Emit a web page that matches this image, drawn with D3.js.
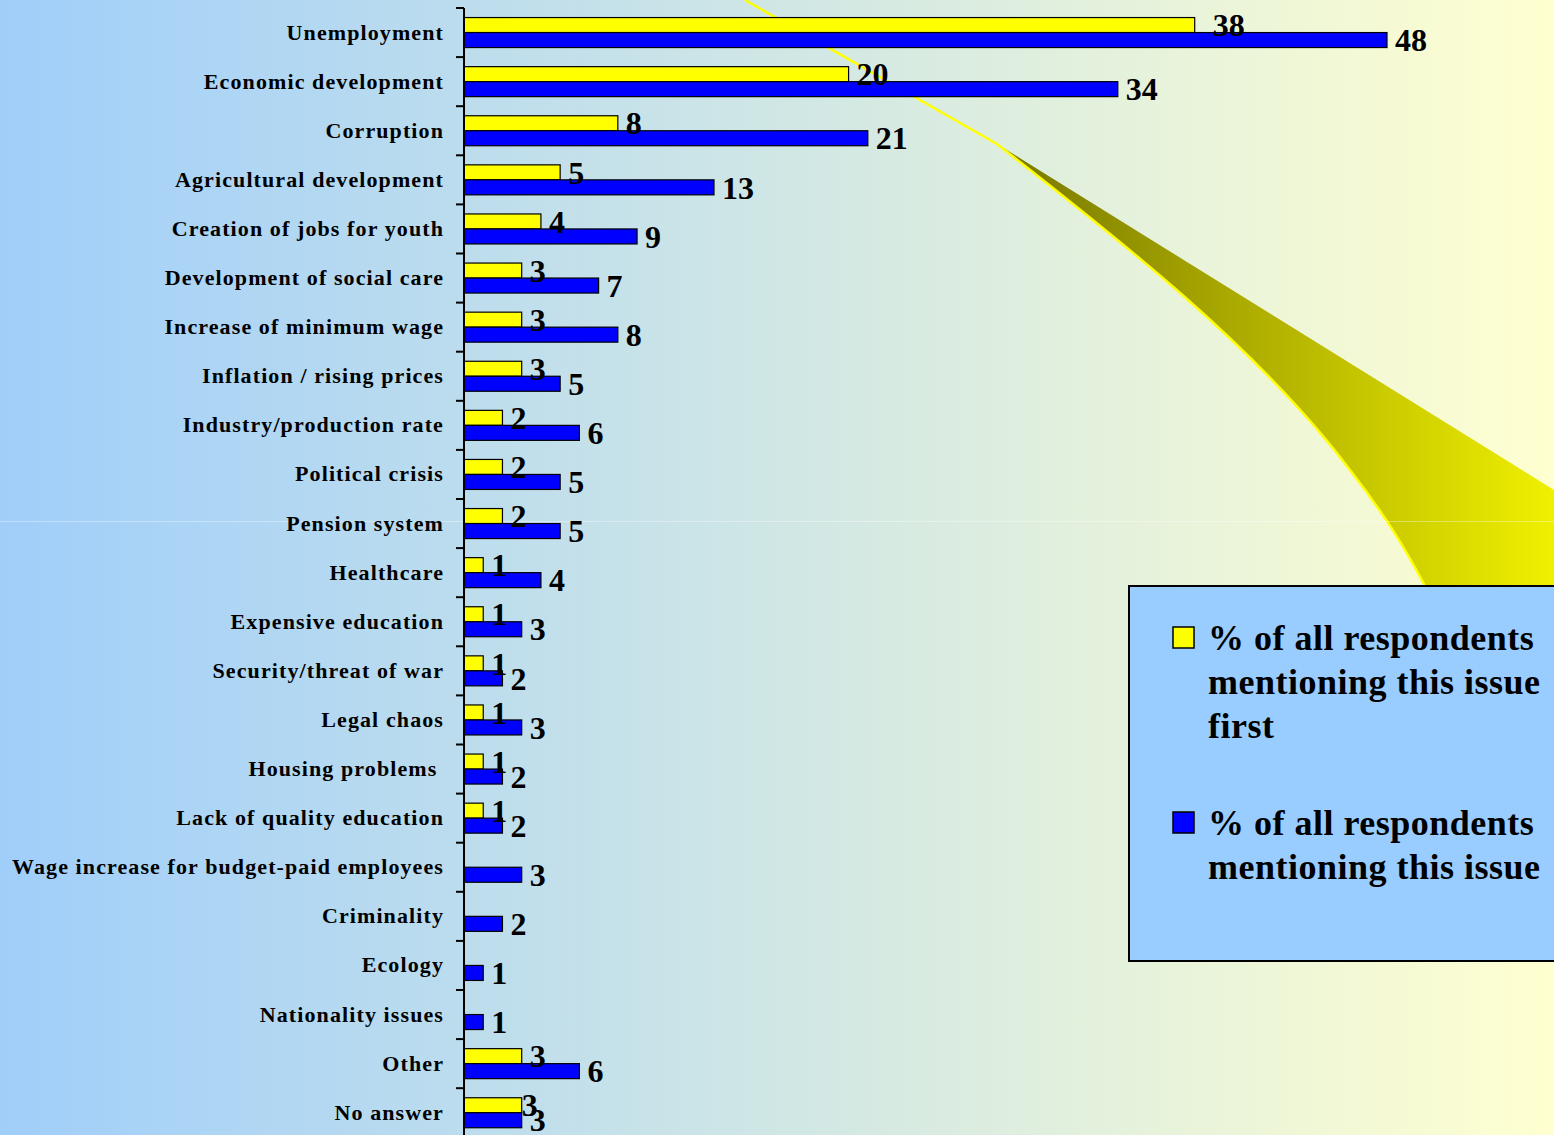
<!DOCTYPE html>
<html>
<head>
<meta charset="utf-8">
<script src="https://cdn.jsdelivr.net/npm/d3@7"></script>
<style>
	body { margin: 0; overflow: hidden; }
	text { font-family: "Liberation Serif", "Times New Roman", serif; font-weight: bold; }
</style>
</head>
<body>
<div class="canvas"></div>
<script>
const categories = ['Unemployment', 'Economic development', 'Corruption', 'Agricultural development',
	'Creation of jobs for youth', 'Development of social care', 'Increase of minimum wage',
	'Inflation / rising prices', 'Industry/production rate', 'Political crisis', 'Pension system',
	'Healthcare', 'Expensive education', 'Security/threat of war', 'Legal chaos', 'Housing problems\u00a0',
	'Lack of quality education', 'Wage increase for budget-paid employees', 'Criminality', 'Ecology',
	'Nationality issues', 'Other', 'No answer'];
const firstMention = [38, 20, 8, 5, 4, 3, 3, 3, 2, 2, 2, 1, 1, 1, 1, 1, 1, null, null, null, null, 3, 3];
const allMention = [48, 34, 21, 13, 9, 7, 8, 5, 6, 5, 5, 4, 3, 2, 3, 2, 2, 3, 2, 1, 1, 6, 3];
const seriesKeys = ['first', 'all'];
const colours = ['#FFFF00', '#0000FF'];

const dims = { width: 1554, height: 1135 };

const svg = d3.select('.canvas').append('svg')
	.attr('width', dims.width)
	.attr('height', dims.height);

const defs = svg.append('defs');

const bg = defs.append('linearGradient').attr('id', 'bg')
	.attr('x1', 0).attr('x2', 1).attr('y1', 0).attr('y2', 0);
bg.append('stop').attr('offset', 0).attr('stop-color', '#A0CEFA');
bg.append('stop').attr('offset', 1).attr('stop-color', '#FFFFD0');

const rib = defs.append('linearGradient').attr('id', 'rib')
	.attr('gradientUnits', 'userSpaceOnUse')
	.attr('x1', 997).attr('x2', 1554).attr('y1', 0).attr('y2', 0);
rib.append('stop').attr('offset', 0).attr('stop-color', '#767600');
rib.append('stop').attr('offset', 1).attr('stop-color', '#F0F000');

svg.append('rect')
	.attr('width', dims.width)
	.attr('height', dims.height)
	.attr('fill', 'url(#bg)');

// slide decoration (swoosh)
svg.append('path')
	.attr('d', 'M997,144 L1554,490 L1554,620 L1440,620 L1425,586 C1405,548 1385,515 1350,470 C1260,350 1120,240 997,144 Z')
	.attr('fill', 'url(#rib)');

svg.append('path')
	.attr('d', 'M745,0 L997,144 C1120,240 1260,350 1350,470 C1385,515 1405,548 1425,586')
	.attr('fill', 'none')
	.attr('stroke', '#FFFF00')
	.attr('stroke-width', 2.5);

svg.append('line')
	.attr('x1', 0).attr('x2', dims.width)
	.attr('y1', 521.5).attr('y2', 521.5)
	.attr('stroke', '#ffffff')
	.attr('stroke-opacity', 0.35)
	.attr('stroke-width', 1);

// scales
const y = d3.scaleBand()
	.domain(categories)
	.range([8, 8 + 49.1 * categories.length]);

const ySub = d3.scaleBand()
	.domain(seriesKeys)
	.range([0, y.bandwidth()])
	.paddingOuter(0.637);

const x = d3.scaleLinear()
	.domain([0, 48])
	.range([464, 1387]);

const colour = d3.scaleOrdinal(seriesKeys, colours);

// flatten to one row per bar
const rows = [];
categories.forEach((c, i) => {
	rows.push({ cat: c, key: 'first', value: firstMention[i] });
	rows.push({ cat: c, key: 'all', value: allMention[i] });
});
const bars = rows.filter(d => d.value !== null);

// a couple of labels were nudged by hand in the original
const labelOffset = d => {
	if (d.cat === 'Unemployment' && d.key === 'first') return 18;
	if (d.cat === 'No answer' && d.key === 'first') return 0;
	return 8;
};

const graph = svg.append('g');

graph.selectAll('rect.bar')
	.data(bars)
	.enter().append('rect')
	.attr('class', 'bar')
	.attr('x', x(0))
	.attr('y', d => y(d.cat) + ySub(d.key))
	.attr('width', d => x(d.value) - x(0))
	.attr('height', ySub.bandwidth())
	.attr('fill', d => colour(d.key))
	.attr('stroke', '#000')
	.attr('stroke-width', 1.2);

graph.selectAll('text.val')
	.data(bars)
	.enter().append('text')
	.attr('class', 'val')
	.attr('x', d => x(d.value) + labelOffset(d))
	.attr('y', d => y(d.cat) + ySub(d.key) + ySub.bandwidth() / 2)
	.attr('dy', '0.35em')
	.attr('font-size', 32)
	.attr('fill', '#000')
	.text(d => d.value);

// category axis: labels at band centres, ticks at band edges
const axis = svg.append('g')
	.attr('transform', `translate(${x(0)},0)`)
	.call(d3.axisLeft(y).tickSize(0).tickPadding(20));
axis.select('.domain').remove();
axis.selectAll('text')
	.attr('font-size', 22)
	.attr('font-family', null)
	.attr('letter-spacing', 1.1)
	.attr('fill', '#000');

svg.append('line')
	.attr('x1', x(0)).attr('x2', x(0))
	.attr('y1', y.range()[0]).attr('y2', dims.height)
	.attr('stroke', '#000')
	.attr('stroke-width', 2);

svg.selectAll('line.tick-edge')
	.data(categories)
	.enter().append('line')
	.attr('class', 'tick-edge')
	.attr('x1', x(0) - 8).attr('x2', x(0))
	.attr('y1', d => y(d)).attr('y2', d => y(d))
	.attr('stroke', '#000')
	.attr('stroke-width', 2);

// legend
const legend = svg.append('g');
legend.append('rect')
	.attr('x', 1129).attr('y', 586)
	.attr('width', 460).attr('height', 375)
	.attr('fill', '#99CCFF')
	.attr('stroke', '#000')
	.attr('stroke-width', 2);

const legendLines = [
	['% of all respondents', 'mentioning this issue', 'first'],
	['% of all respondents', 'mentioning this issue']
];
const legendTop = [627, 812];

seriesKeys.forEach((k, i) => {
	legend.append('rect')
		.attr('x', 1173).attr('y', legendTop[i])
		.attr('width', 21).attr('height', 21)
		.attr('fill', colour(k))
		.attr('stroke', '#000')
		.attr('stroke-width', 1.5);
	legend.append('text')
		.attr('x', 1208)
		.attr('y', legendTop[i] + 23)
		.attr('font-size', 36)
		.attr('letter-spacing', 0.5)
		.selectAll('tspan')
		.data(legendLines[i])
		.enter().append('tspan')
		.attr('x', 1208)
		.attr('dy', (d, j) => j === 0 ? 0 : 44)
		.text(d => d);
});
</script>
</body>
</html>
